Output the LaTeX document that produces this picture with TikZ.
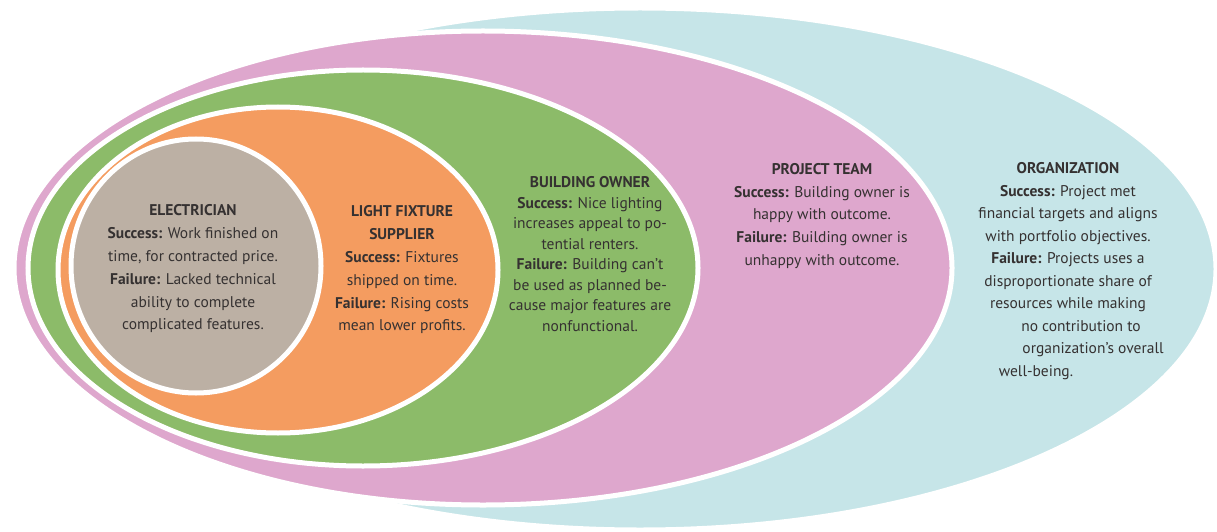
\documentclass[tikz,border=0pt]{standalone}
\usepackage{fontspec}
\setmainfont{PT Sans}
\usetikzlibrary{positioning}
\definecolor{Ink}{HTML}{353131}
\definecolor{OrgCyan}{HTML}{C6E5E8}
\definecolor{TeamPink}{HTML}{DEA7CD}
\definecolor{OwnerGreen}{HTML}{8CBB69}
\definecolor{SupplyOrange}{HTML}{F49C60}
\definecolor{ElecGrey}{HTML}{BCB0A4}
\newcommand{\RingText}[5][]{%
  \node[font=\fontsize{15.5}{22.8}\selectfont,text=Ink,align=center,inner sep=0pt,#1] (#2) at (#3,#4) {#5};%
}

\begin{document}
\begin{tikzpicture}[x=1pt,y=1pt]
\useasboundingbox (0,0) rectangle (1217,531);
% rings, outermost first
\foreach \cx/\cy/\rx/\ry/\c in {640/262/576/261/OrgCyan,483/263/469/237/TeamPink,363/263/335/198/OwnerGreen,278/261/220/163/SupplyOrange,196/265/125/127/ElecGrey} {
  \draw[white,line width=5pt,fill=\c] (\cx,\cy) ellipse [x radius=\rx pt, y radius=\ry pt];
}
\RingText{electrician}{193}{262}{\textbf{ELECTRICIAN}\\\textbf{Success:} Work finished on\\time, for contracted price.\\\textbf{Failure:} Lacked technical\\ability to complete\\complicated features.}
\RingText{supplier}{402}{261}{\textbf{LIGHT FIXTURE}\\\textbf{SUPPLIER}\\\textbf{Success:} Fixtures\\shipped on time.\\\textbf{Failure:} Rising costs\\mean lower profits.}
\RingText[font=\fontsize{15.5}{20.5}\selectfont]{owner}{590}{277}{\textbf{BUILDING OWNER}\\\textbf{Success:} Nice lighting\\increases appeal to po-\\tential renters.\\\textbf{Failure:} Building can’t\\be used as planned be-\\cause major features are\\nonfunctional.}
\RingText{team}{822}{315}{\textbf{PROJECT TEAM}\\\textbf{Success:} Building owner is\\happy with outcome.\\\textbf{Failure:} Building owner is\\unhappy with outcome.}
\RingText[font=\fontsize{15.5}{22.5}\selectfont]{organization}{1068}{260}{\textbf{ORGANIZATION}\\\textbf{Success:} Project met\\financial targets and aligns\\with portfolio objectives.\\\textbf{Failure:} Projects uses a\\disproportionate share of\\resources while making\\\hspace*{26pt}no contribution to\\\hspace*{50pt}organization’s overall\\well-being.\hspace*{64pt}}
\end{tikzpicture}
\end{document}
